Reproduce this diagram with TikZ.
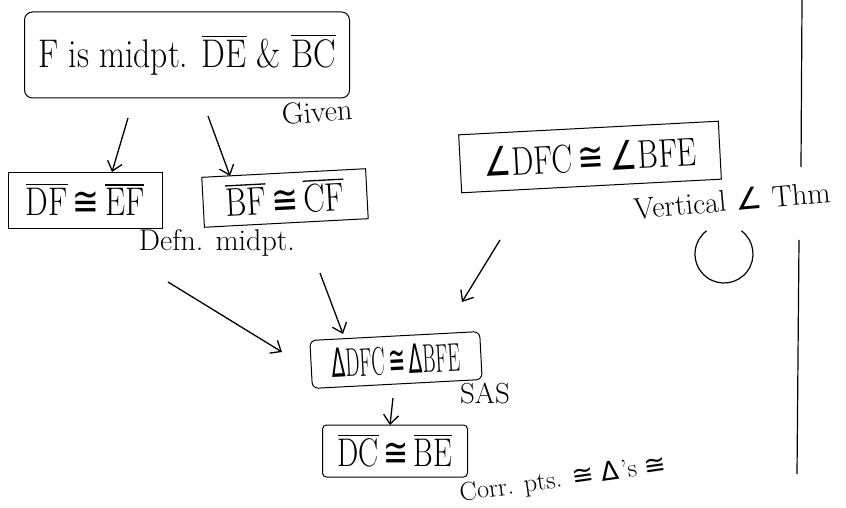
\documentclass[tikz,border=0pt]{standalone}
\usepackage{fontspec}
\newfontfamily\symf{DejaVu Sans}
\usetikzlibrary{arrows.meta}
\newcommand{\hwtext}[3]{\scalebox{#1}[1]{\fontsize{#2}{#2}\selectfont #3}}
\newcommand{\ovl}[1]{\vbox{\hrule height 1.3pt\kern 3pt\hbox{#1}}}
\newcommand{\cng}{\,{\symf ≅}\,}
\newcommand{\ang}{{\symf ∠}\kern1pt}
\newcommand{\tri}{{\symf Δ}\kern2pt}
\begin{document}
\begin{tikzpicture}[x=1pt,y=-1pt,
  box/.style={draw, line width=1pt, inner sep=0pt, rectangle},
  arr/.style={line width=1.3pt, -{Straight Barb[length=9pt,width=15pt,line width=1.3pt]}},
  lbl/.style={inner sep=0pt}]
\useasboundingbox (0,0) rectangle (846,508);
\fill[white] (0,0) rectangle (846,508);

% boxes
\node[box, rounded corners=8pt, minimum width=325, minimum height=86] (top) at (187,55)
  {\hwtext{0.84}{40}{F is midpt. \ovl{DE} \& \ovl{BC}}};
\node[box, minimum width=154, minimum height=56] (df) at (85,200)
  {\hwtext{0.8}{40}{\ovl{DF}\cng\ovl{EF}}};
\node[box, rotate=3, minimum width=164, minimum height=50] (bf) at (285,198)
  {\hwtext{0.8}{40}{\ovl{BF}\cng\ovl{CF}}};
\node[box, rotate=3, minimum width=260, minimum height=58] (ang) at (590,157)
  {\hwtext{0.78}{40}{\ang DFC\cng\ang BFE}};
\node[box, rotate=3, rounded corners=6pt, minimum width=170, minimum height=48] (tri) at (396,360)
  {\hwtext{0.5}{40}{\tri DFC\cng\tri BFE}};
\node[box, rounded corners=4pt, minimum width=145, minimum height=52] (dc) at (395,451)
  {\hwtext{0.75}{40}{\ovl{DC}\cng\ovl{BE}}};

% reasons
\node[lbl, rotate=4] (given) at (317,112) {\fontsize{30}{30}\selectfont Given};
\node[lbl] (defn) at (217,243) {\fontsize{30}{30}\selectfont Defn. midpt.};
\node[lbl, rotate=5] (vert) at (732,200) {\fontsize{30}{30}\selectfont Vertical \ang\ Thm};
\node[lbl] (sas) at (485,393) {\fontsize{29}{29}\selectfont SAS};
\node[lbl, rotate=8] (cpctc) at (563,480) {\fontsize{26}{26}\selectfont Corr. pts. {\symf ≅} \tri's {\symf ≅}};

% arrows
\coordinate (a1) at (128,118);
\coordinate (a1t) at (112,172);
\coordinate (a2) at (208,116);
\coordinate (a2t) at (230,176);
\coordinate (a3) at (168,282);
\coordinate (a3t) at (282,352);
\coordinate (a4) at (320,273);
\coordinate (a4t) at (343,334);
\coordinate (a5) at (500,240);
\coordinate (a5t) at (462,302);
\coordinate (a6) at (393,398);
\coordinate (a6t) at (390,425);
\draw[arr] (a1) -- (a1t);
\draw[arr] (a2) -- (a2t);
\draw[arr] (a3) -- (a3t);
\draw[arr] (a4) -- (a4t);
\draw[arr] (a5) -- (a5t);
\draw[arr] (a6) -- (a6t);

% margin line and circle
\draw[line width=1.2pt] (802,0) -- (801,167);
\draw[line width=1.2pt] (799,240) -- (797,474);
\draw[line width=1.2pt] (724,254) ++(307:29) arc[start angle=307, end angle=593, radius=29];
\end{tikzpicture}
\end{document}
